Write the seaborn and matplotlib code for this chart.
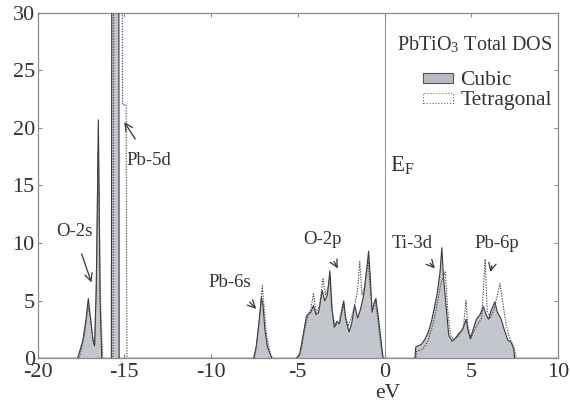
import matplotlib
matplotlib.use("Agg")
import matplotlib.pyplot as plt
import seaborn as sns
import numpy as np
from matplotlib.patches import Patch

# ---- data ----
E_cubic = [-20.0, -17.7, -17.4, -17.2, -17.08, -16.95, -16.8, -16.72, -16.62, -16.55, -16.5, -16.45, -16.4, -16.3,
           -15.75, -15.72, -15.32, -15.3,
           -7.55, -7.4, -7.25, -7.1, -7.0, -6.9, -6.75, -6.5,
           -5.1, -4.9, -4.7, -4.5, -4.25, -4.1, -3.95, -3.8, -3.6, -3.45, -3.3, -3.15, -3.05, -2.9, -2.75, -2.6,
           -2.45, -2.35, -2.25, -2.05, -1.9, -1.72, -1.55, -1.4, -1.2, -1.05, -0.92, -0.82, -0.72, -0.6, -0.5,
           -0.35, -0.2, -0.08,
           1.75, 1.8, 2.1, 2.3, 2.5, 2.7, 2.9, 3.05, 3.2, 3.3, 3.4, 3.55, 3.7, 3.9, 4.1, 4.3, 4.5, 4.7, 4.85,
           4.95, 5.1, 5.3, 5.5, 5.7, 5.85, 6.0, 6.15, 6.36, 6.5, 6.7, 6.9, 7.1, 7.3, 7.45, 7.5, 10.0]
dos_cubic = [0, 0, 1.5, 3.5, 5.2, 3.5, 1.5, 1.1, 6, 14, 20.7, 14, 5, 0,
             0, 40, 40, 0,
             0, 1, 3, 5.3, 4.5, 2.5, 1, 0,
             0, 0.3, 2, 3.7, 4.0, 4.6, 3.8, 4.0, 5.9, 5.0, 5.5, 7.6, 4.5, 2.7, 3.2, 3.0,
             4.2, 5.0, 3.5, 2.3, 3.0, 4.6, 3.5, 4.2, 5.5, 7.5, 9.3, 7.0, 4.0, 4.8, 5.2,
             3.5, 1.5, 0,
             0, 1.0, 1.2, 1.6, 2.2, 3.2, 4.6, 5.8, 7.5, 9.6, 7.0, 4.5, 2.0, 1.5, 1.8, 2.2, 2.5, 3.4, 2.2,
             1.7, 2.5, 3.4, 3.8, 4.5, 3.8, 3.4, 4.2, 4.9, 4.0, 3.5, 2.5, 1.6, 1.4, 0.8, 0, 0]

E_tetra = [-20.0, -17.6, -17.3, -17.1, -16.95, -16.8, -16.7, -16.6, -16.52, -16.45, -16.35, -16.25,
           -15.65, -15.6, -15.15, -15.1, -14.9, -14.85,
           -7.5, -7.35, -7.2, -7.05, -6.95, -6.8, -6.6, -6.45,
           -5.0, -4.8, -4.6, -4.4, -4.25, -4.1, -3.95, -3.75, -3.55, -3.4, -3.25, -3.12, -3.0, -2.85, -2.6,
           -2.4, -2.3, -2.1, -1.9, -1.7, -1.55, -1.43, -1.3, -1.15, -0.95, -0.82, -0.7, -0.55, -0.4, -0.25, -0.1,
           1.8, 1.85, 2.2, 2.5, 2.8, 3.05, 3.25, 3.5, 3.65, 3.8, 4.0, 4.3, 4.55, 4.7, 4.8, 5.0, 5.3, 5.6,
           5.8, 5.92, 6.1, 6.3, 6.5, 6.65, 6.8, 7.0, 7.2, 7.45, 7.6, 10.0]
dos_tetra = [0, 0, 2, 4.5, 3.5, 1.5, 1.2, 8, 17.9, 12, 4, 0,
             0, 40, 40, 22, 22, 0,
             0, 1.5, 3.5, 6.3, 4.5, 2, 0.5, 0,
             0, 0.8, 2.5, 3.8, 4.3, 5.6, 4.0, 4.5, 6.9, 5.5, 6.2, 7.0, 4.0, 2.8, 3.3,
             4.8, 4.0, 2.8, 3.6, 4.8, 6.0, 8.4, 5.5, 6.2, 8.5, 6.0, 4.2, 5.0, 3.5, 1.5, 0,
             0, 0.6, 0.8, 1.5, 3.0, 4.8, 6.5, 7.5, 4.0, 2.0, 1.6, 2.0, 2.8, 5.0, 2.8, 1.8, 2.8, 3.5,
             8.6, 4.0, 3.5, 4.2, 5.5, 6.5, 5.0, 3.0, 1.8, 1.0, 0, 0]

x_ticks = [-20, -15, -10, -5, 0, 5, 10]
y_ticks = [0, 5, 10, 15, 20, 25, 30]

annotations = [  # label, text position, arrow tip
    ("O-2s", (-17.9, 11.0), (-16.9, 6.6)),
    ("Pb-5d", (-13.6, 17.2), (-15.0, 20.5)),
    ("Pb-6s", (-8.9, 6.6), (-7.4, 4.3)),
    ("O-2p", (-3.55, 10.3), (-2.7, 7.8)),
    ("Ti-3d", (1.6, 10.0), (2.9, 7.8)),
    ("Pb-6p", (6.5, 10.0), (6.1, 7.5)),
]

# ---- style ----
sns.set_style("ticks")
plt.rcParams['font.family'] = ['Liberation Serif', 'DejaVu Serif']
plt.rcParams['mathtext.fontset'] = 'stix'
txt = '#333333'
axc = '#8a8a8a'

fig = plt.figure(figsize=(5.7, 4.05), dpi=100)
ax = fig.add_axes([0.066, 0.115, 0.913, 0.854])

fill_c = '#c3c6cd'
ax.fill_between(E_cubic, dos_cubic, 0, color=fill_c, lw=0, zorder=1)
sns.lineplot(x=E_cubic, y=dos_cubic, ax=ax, color='#3a3a3a', lw=0.8, sort=False,
             estimator=None, zorder=3)
sns.lineplot(x=E_tetra, y=dos_tetra, ax=ax, color='#4a4a4a', lw=0.8, sort=False,
             estimator=None, linestyle=(0, (1.2, 1.2)), zorder=4)

ax.axvline(0, color='#999999', lw=0.8, zorder=0)

ax.set_xlim(-20, 10)
ax.set_ylim(0, 30)
ax.set_xticks(x_ticks)
ax.set_yticks(y_ticks)
ax.set_xticklabels([str(t) for t in x_ticks])
ax.set_yticklabels([str(t) for t in y_ticks])
ax.tick_params(direction='in', top=True, right=True, length=3, width=0.8, color=axc,
               labelsize=16, labelcolor=txt)
ax.tick_params(axis='x', pad=3.5)
ax.tick_params(axis='y', pad=2)
for s in ax.spines.values():
    s.set_color(axc)
    s.set_linewidth(0.9)
ax.set_xlabel('eV', fontsize=15.5, color=txt, va='center')
ax.xaxis.set_label_coords(0.672, -0.1)
ax.set_ylabel('')

for lab, tpos, tip in annotations:
    ax.annotate(lab, xy=tip, xytext=tpos, fontsize=13.5, color=txt, ha='center', va='center',
                arrowprops=dict(arrowstyle='->', color='#333333', lw=0.9,
                                shrinkA=8, shrinkB=0))

ax.text(0.3, 16.8, r'E$_\mathregular{F}$', fontsize=16.5, color=txt, ha='left', va='center')

# legend title as separate text, entries as legend
ax.text(0.99, 0.907, r'PbTiO$_\mathregular{3}$ Total DOS', transform=ax.transAxes,
        fontsize=14.5, color=txt, ha='right', va='center')

handles = [Patch(facecolor='#b8bbc6', edgecolor='#555555', lw=0.8, label='Cubic'),
           Patch(facecolor='white', edgecolor='#666666', lw=0.8, linestyle=':', label='Tetragonal')]
leg = ax.legend(handles=handles, loc='upper right',
                frameon=False, fontsize=15.5, handlelength=1.4, handleheight=0.35,
                handletextpad=0.35, borderaxespad=0.0, labelspacing=0.05,
                bbox_to_anchor=(1.005, 0.855))
for t in leg.get_texts():
    t.set_color(txt)

fig.savefig('out.png', dpi=100)
